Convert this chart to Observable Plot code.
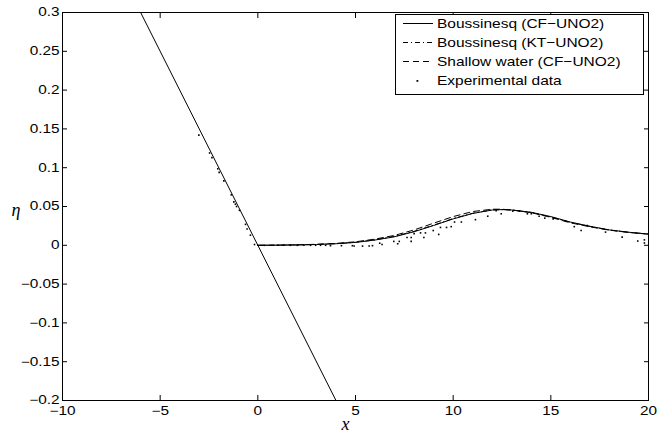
<!DOCTYPE html>
<html><head><meta charset="utf-8">
<script src="https://cdn.jsdelivr.net/npm/d3@7"></script>
<script src="https://cdn.jsdelivr.net/npm/@observablehq/plot@0.6"></script>
<style>
body{margin:0;background:#fff;}
#wrap{position:relative;width:658px;height:432px;}
#legend{position:absolute;left:395px;top:14px;width:249px;height:81px;border:1px solid #000;background:#fff;box-sizing:border-box;font-family:"Liberation Sans",Arial,sans-serif;font-size:13px;color:#000;}
.row{position:absolute;left:0;height:19px;display:flex;align-items:center;}
.row svg{margin-left:7px;flex:none;}
.row span{display:inline-block;transform:scaleX(1.19);transform-origin:left center;margin-left:4px;white-space:nowrap;}
</style></head>
<body><div id="wrap"></div>
<script>
// Model curves (x >= 0)
const waveX = [0,1,2,3,4,5,6,7,8,9,10,11,12,12.5,13,14,15,16,17,18,19,20];
const cfY = [0,0.0002,0.0005,0.001,0.002,0.0037,0.0068,0.011,0.0175,0.0255,0.034,0.041,0.0455,0.046,0.0455,0.0425,0.037,0.030,0.0245,0.0198,0.0168,0.0145];
const ktY = [0,0.0002,0.0005,0.0011,0.0021,0.0039,0.007,0.0115,0.018,0.026,0.0345,0.0413,0.0456,0.046,0.0455,0.0423,0.0366,0.0296,0.0243,0.0197,0.0167,0.0145];
const swY = [0,0.0002,0.0006,0.0013,0.0025,0.0045,0.008,0.0128,0.0198,0.0285,0.037,0.0435,0.0465,0.0465,0.0455,0.042,0.036,0.029,0.0238,0.0195,0.0165,0.0143];
// Sloping beach line
const beachX = [-6, 4];
const beachY = [0.3, -0.2];
// Experimental data
const expX = [-3.02,-2.47,-2.35,-2.05,-1.98,-1.74,-1.36,-1.23,-1.15,-1.09,-0.94,-0.63,-0.55,-0.38,-0.17,
  0.34,0.99,1.33,1.67,2.02,2.36,2.70,2.96,3.21,3.47,3.72,4.28,4.84,4.93,5.36,5.70,5.87,
  6.24,6.36,6.96,7.16,7.24,7.64,7.85,7.85,8.0,8.33,8.5,8.58,8.98,9.26,9.35,9.66,9.9,10.07,
  10.42,11.14,11.77,12.2,12.46,13.05,13.4,13.8,14.0,14.4,14.69,15.12,15.75,16.2,16.55,16.86,17.8,18.65,19.45,19.79,19.79];
const expY = [0.142,0.119,0.113,0.0986,0.094,0.083,0.065,0.056,0.053,0.050,0.045,0.027,0.021,0.013,0.001,
  0,0,0,0,0,0,0,0,0,0,-0.0005,-0.0005,-0.0005,-0.001,-0.001,-0.001,-0.0005,
  0.0027,0.001,0.005,0.002,0.005,0.010,0.010,0.005,0.015,0.016,0.010,0.016,0.019,0.014,0.023,0.023,0.024,0.030,
  0.030,0.033,0.0375,0.0445,0.0406,0.044,0.044,0.0406,0.0406,0.0375,0.035,0.034,0.031,0.024,0.019,0.0255,0.017,0.0105,0.0055,0.007,0.003];
const xTicks = [-10,-5,0,5,10,15,20];
const yTicks = [-0.2,-0.15,-0.1,-0.05,0,0.05,0.1,0.15,0.2,0.25,0.3];
const seriesNames = ["Boussinesq (CF\u2212UNO2)","Boussinesq (KT\u2212UNO2)","Shallow water (CF\u2212UNO2)","Experimental data"];
const seriesDash = [null, "5,3,1,3", "6,4", null];
const xLabel = "x";
const yLabel = "\u03b7";

const cf = waveX.map((x,i)=>({x, y: cfY[i]}));
const kt = waveX.map((x,i)=>({x, y: ktY[i]}));
const sw = waveX.map((x,i)=>({x, y: swY[i]}));
const beach = beachX.map((x,i)=>({x, y: beachY[i]}));
const exp = expX.map((x,i)=>({x, y: expY[i]}));
const fmt = d => String(Math.round(d*100)/100).replace("-", "\u2212");

const chart = Plot.plot({
  width: 658, height: 432,
  marginLeft: 62, marginRight: 10, marginTop: 12, marginBottom: 32,
  x: {domain: [-10, 20]},
  y: {domain: [-0.2, 0.3]},
  style: {fontFamily: "'Liberation Sans', Arial, sans-serif", fontSize: "12px", color: "#000", background: "#fff"},
  marks: [
    Plot.line(beach, {x: "x", y: "y", stroke: "#000", strokeWidth: 1}),
    Plot.line(sw, {x: "x", y: "y", stroke: "#000", strokeWidth: 1, strokeDasharray: seriesDash[2]}),
    Plot.line(kt, {x: "x", y: "y", stroke: "#000", strokeWidth: 1, strokeDasharray: seriesDash[1]}),
    Plot.line(cf, {x: "x", y: "y", stroke: "#000", strokeWidth: 1}),
    Plot.dot(exp, {x: "x", y: "y", r: 0.9, fill: "#000", stroke: "none", symbol: "square"}),
    Plot.frame({stroke: "#000", strokeWidth: 1}),
    Plot.axisY(yTicks, {anchor: "left", tickSize: 5, dx: 5, fill: "none", label: null}),
    Plot.axisY(yTicks, {anchor: "right", tickSize: 5, dx: -5, fill: "none", label: null}),
    Plot.axisX(xTicks, {anchor: "bottom", tickSize: 5, dy: -5, fill: "none", label: null}),
    Plot.axisX(xTicks, {anchor: "top", tickSize: 5, dy: 5, fill: "none", label: null}),
    Plot.axisY(yTicks, {anchor: "left", tickSize: 0, tickPadding: 3, stroke: "none", tickFormat: fmt, label: null}),
    Plot.axisX(xTicks, {anchor: "bottom", tickSize: 0, tickPadding: 6, stroke: "none", tickFormat: fmt, label: null}),
    Plot.text([yLabel], {frameAnchor: "left", dx: -51, dy: 4, text: d => d, fontFamily: "'Liberation Serif', serif", fontStyle: "italic", fontSize: 18, textAnchor: "start", lineAnchor: "middle"}),
    Plot.text([xLabel], {frameAnchor: "bottom", dx: -10, dy: 29, text: d => d, fontFamily: "'Liberation Serif', serif", fontStyle: "italic", fontSize: 18, lineAnchor: "bottom"})
  ]
});
document.getElementById("wrap").appendChild(chart);

// widen tick label glyphs like the original
chart.querySelectorAll('g[aria-label="y-axis tick label"] text, g[aria-label="x-axis tick label"] text').forEach(t => {
  t.setAttribute("transform", (t.getAttribute("transform") || "") + " scale(1.28,1)");
});

// Legend
const legend = document.createElement("div");
legend.id = "legend";
seriesNames.forEach((name, i) => {
  const row = document.createElement("div");
  row.className = "row";
  row.style.top = (-1 + 19 * i) + "px";
  const ns = "http://www.w3.org/2000/svg";
  const s = document.createElementNS(ns, "svg");
  s.setAttribute("width", "30"); s.setAttribute("height", "19");
  if (i < 3) {
    const l = document.createElementNS(ns, "line");
    l.setAttribute("x1", "0"); l.setAttribute("x2", "30");
    l.setAttribute("y1", "9.5"); l.setAttribute("y2", "9.5");
    l.setAttribute("stroke", "#000"); l.setAttribute("stroke-width", "1");
    if (seriesDash[i]) l.setAttribute("stroke-dasharray", seriesDash[i]);
    s.appendChild(l);
  } else {
    const r = document.createElementNS(ns, "rect");
    r.setAttribute("x", "13.5"); r.setAttribute("y", "9"); r.setAttribute("width", "1.8"); r.setAttribute("height", "1.8");
    r.setAttribute("fill", "#000");
    s.appendChild(r);
  }
  row.appendChild(s);
  const sp = document.createElement("span");
  sp.textContent = name;
  row.appendChild(sp);
  legend.appendChild(row);
});
document.getElementById("wrap").appendChild(legend);
</script>
</body></html>
